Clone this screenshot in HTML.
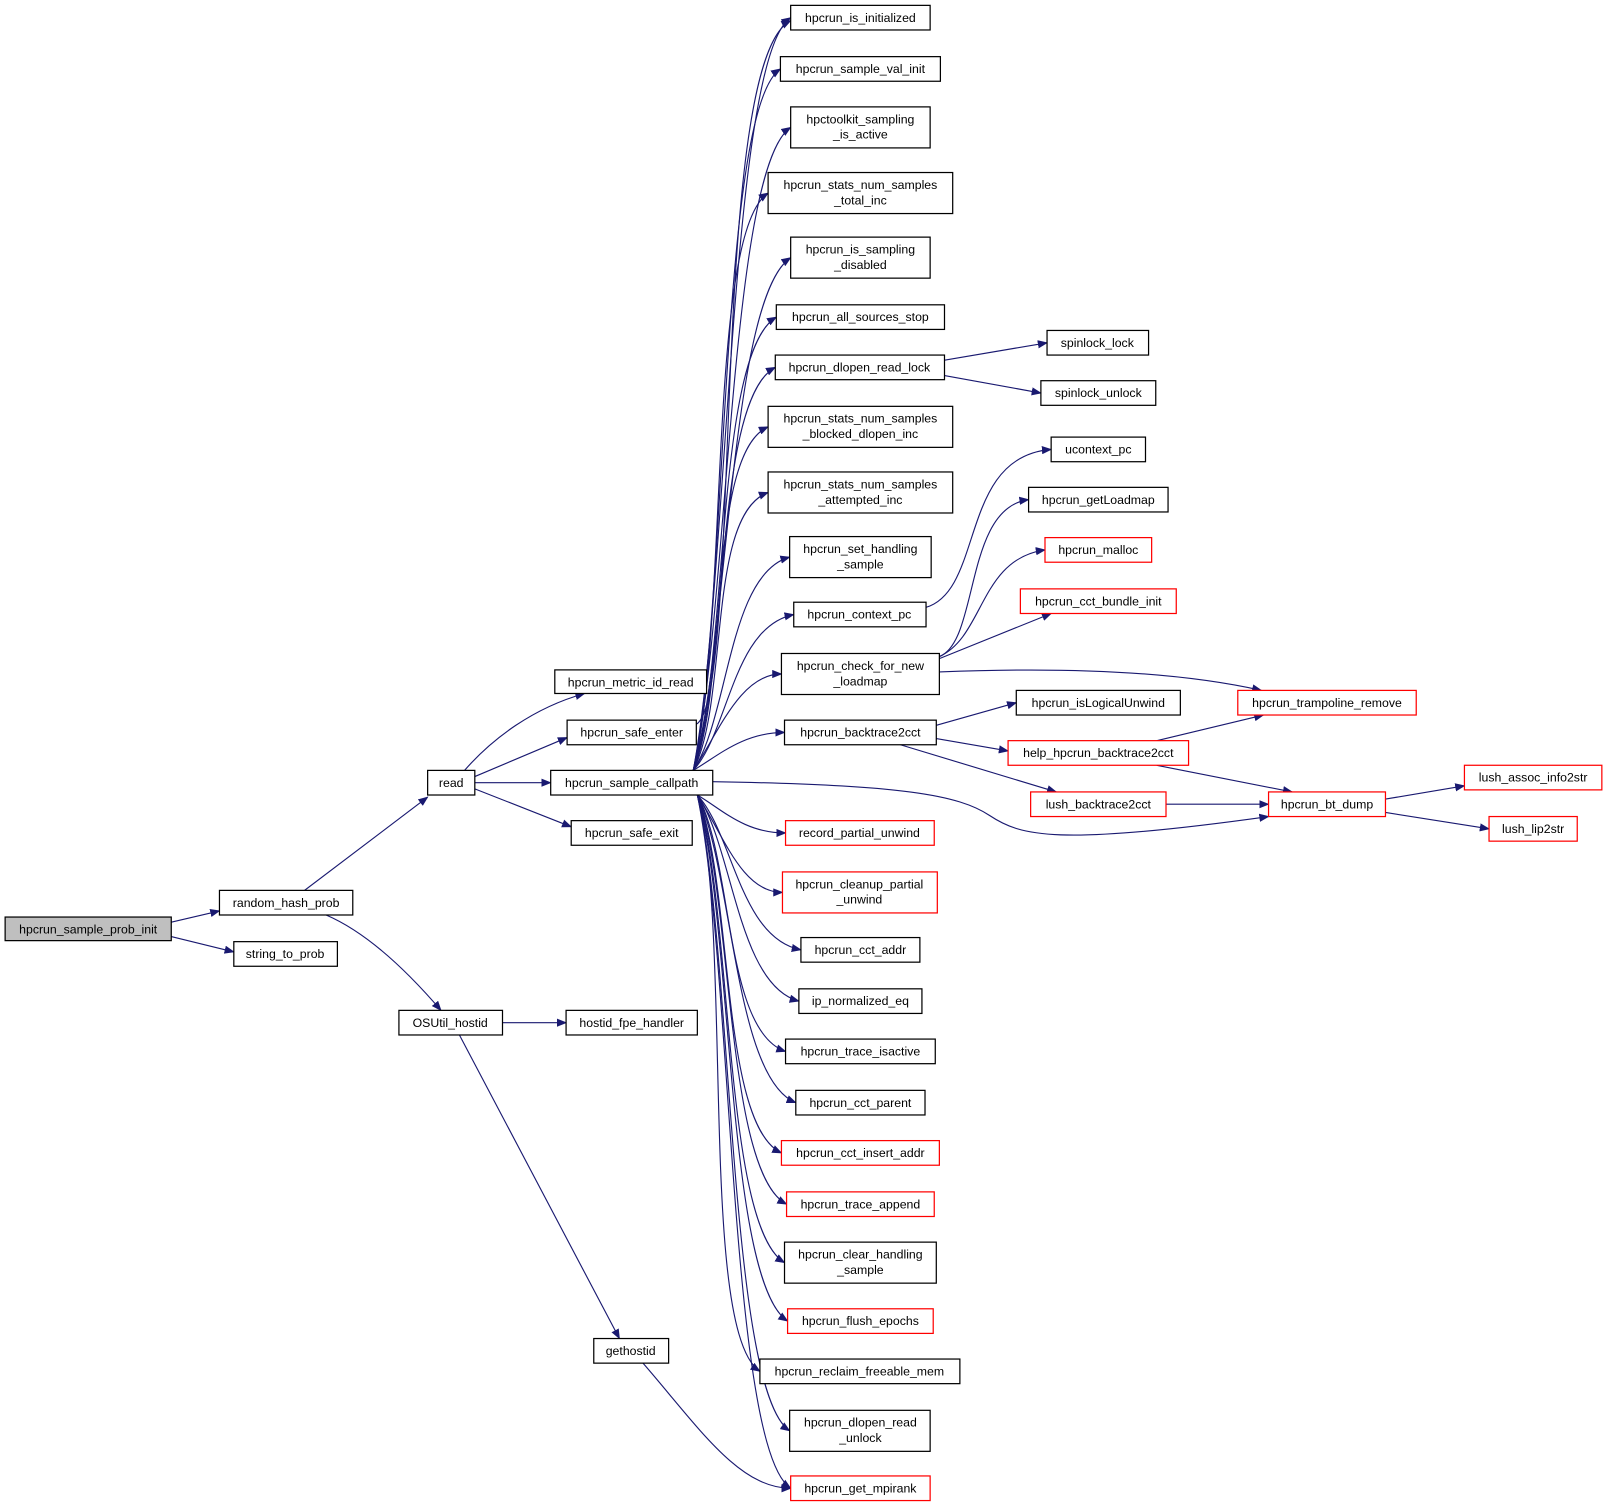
<!DOCTYPE html>
<html><head><meta charset="utf-8"><style>html,body{margin:0;padding:0;background:#fff}svg{display:block}text{font-family:"Liberation Sans",sans-serif;font-size:12px;fill:#000}</style></head>
<body>
<svg id="g" width="1608" height="1509" viewBox="0 0 1568 1471" xmlns="http://www.w3.org/2000/svg">
<defs><marker id="a" markerWidth="10" markerHeight="8" refX="9" refY="4" orient="auto" markerUnits="userSpaceOnUse"><path d="M0,0 L10,4 L0,8 z" fill="#191970"/></marker></defs>
<g id="edges" fill="none" stroke="#191970" stroke-width="1.1"></g>
<g stroke-width="1.2" fill="#fff">
<rect x="5" y="894" width="162" height="23" fill="#bfbfbf" stroke="#000"/><text x="86" y="910" text-anchor="middle">hpcrun_sample_prob_init</text>
<rect x="214" y="868" width="130" height="24" stroke="#000"/><text x="279" y="884" text-anchor="middle">random_hash_prob</text>
<rect x="228" y="918" width="101" height="24" stroke="#000"/><text x="278" y="934" text-anchor="middle">string_to_prob</text>
<rect x="417" y="751" width="46" height="24" stroke="#000"/><text x="440" y="767" text-anchor="middle">read</text>
<rect x="389" y="985" width="101" height="24" stroke="#000"/><text x="439" y="1001" text-anchor="middle">OSUtil_hostid</text>
<rect x="541" y="653" width="148" height="23" stroke="#000"/><text x="615" y="669" text-anchor="middle">hpcrun_metric_id_read</text>
<rect x="553" y="702" width="126" height="24" stroke="#000"/><text x="616" y="718" text-anchor="middle">hpcrun_safe_enter</text>
<rect x="537" y="751" width="158" height="24" stroke="#000"/><text x="616" y="767" text-anchor="middle">hpcrun_sample_callpath</text>
<rect x="557" y="800" width="118" height="24" stroke="#000"/><text x="616" y="816" text-anchor="middle">hpcrun_safe_exit</text>
<rect x="552" y="985" width="128" height="24" stroke="#000"/><text x="616" y="1001" text-anchor="middle">hostid_fpe_handler</text>
<rect x="579" y="1305" width="73" height="24" stroke="#000"/><text x="615" y="1321" text-anchor="middle">gethostid</text>

<rect x="771" y="5" width="136" height="24" stroke="#000"/><text x="839" y="21" text-anchor="middle">hpcrun_is_initialized</text>
<rect x="761" y="55" width="156" height="24" stroke="#000"/><text x="839" y="71" text-anchor="middle">hpcrun_sample_val_init</text>
<rect x="771" y="104" width="136" height="40" stroke="#000"/><text x="839" y="120" text-anchor="middle">hpctoolkit_sampling</text><text x="839" y="135" text-anchor="middle">_is_active</text>
<rect x="749" y="168" width="180" height="40" stroke="#000"/><text x="839" y="184" text-anchor="middle">hpcrun_stats_num_samples</text><text x="839" y="199" text-anchor="middle">_total_inc</text>
<rect x="771" y="231" width="136" height="40" stroke="#000"/><text x="839" y="247" text-anchor="middle">hpcrun_is_sampling</text><text x="839" y="262" text-anchor="middle">_disabled</text>
<rect x="757" y="297" width="164" height="24" stroke="#000"/><text x="839" y="313" text-anchor="middle">hpcrun_all_sources_stop</text>
<rect x="756" y="346" width="165" height="24" stroke="#000"/><text x="838" y="362" text-anchor="middle">hpcrun_dlopen_read_lock</text>
<rect x="749" y="396" width="180" height="40" stroke="#000"/><text x="839" y="412" text-anchor="middle">hpcrun_stats_num_samples</text><text x="839" y="427" text-anchor="middle">_blocked_dlopen_inc</text>
<rect x="749" y="460" width="180" height="40" stroke="#000"/><text x="839" y="476" text-anchor="middle">hpcrun_stats_num_samples</text><text x="839" y="491" text-anchor="middle">_attempted_inc</text>
<rect x="770" y="523" width="138" height="40" stroke="#000"/><text x="839" y="539" text-anchor="middle">hpcrun_set_handling</text><text x="839" y="554" text-anchor="middle">_sample</text>
<rect x="774" y="587" width="129" height="24" stroke="#000"/><text x="838" y="603" text-anchor="middle">hpcrun_context_pc</text>
<rect x="762" y="637" width="154" height="40" stroke="#000"/><text x="839" y="653" text-anchor="middle">hpcrun_check_for_new</text><text x="839" y="668" text-anchor="middle">_loadmap</text>
<rect x="765" y="702" width="148" height="24" stroke="#000"/><text x="839" y="718" text-anchor="middle">hpcrun_backtrace2cct</text>
<rect x="766" y="800" width="145" height="24" stroke="red"/><text x="838" y="816" text-anchor="middle">record_partial_unwind</text>
<rect x="763" y="850" width="151" height="40" stroke="red"/><text x="838" y="866" text-anchor="middle">hpcrun_cleanup_partial</text><text x="838" y="881" text-anchor="middle">_unwind</text>
<rect x="781" y="914" width="116" height="24" stroke="#000"/><text x="839" y="930" text-anchor="middle">hpcrun_cct_addr</text>
<rect x="779" y="964" width="120" height="24" stroke="#000"/><text x="839" y="980" text-anchor="middle">ip_normalized_eq</text>
<rect x="766" y="1013" width="146" height="24" stroke="#000"/><text x="839" y="1029" text-anchor="middle">hpcrun_trace_isactive</text>
<rect x="776" y="1063" width="126" height="24" stroke="#000"/><text x="839" y="1079" text-anchor="middle">hpcrun_cct_parent</text>
<rect x="762" y="1112" width="154" height="24" stroke="red"/><text x="839" y="1128" text-anchor="middle">hpcrun_cct_insert_addr</text>
<rect x="767" y="1162" width="144" height="24" stroke="red"/><text x="839" y="1178" text-anchor="middle">hpcrun_trace_append</text>
<rect x="765" y="1211" width="148" height="40" stroke="#000"/><text x="839" y="1227" text-anchor="middle">hpcrun_clear_handling</text><text x="839" y="1242" text-anchor="middle">_sample</text>
<rect x="768" y="1276" width="142" height="24" stroke="red"/><text x="839" y="1292" text-anchor="middle">hpcrun_flush_epochs</text>
<rect x="741" y="1325" width="195" height="24" stroke="#000"/><text x="838" y="1341" text-anchor="middle">hpcrun_reclaim_freeable_mem</text>
<rect x="770" y="1375" width="137" height="40" stroke="#000"/><text x="839" y="1391" text-anchor="middle">hpcrun_dlopen_read</text><text x="839" y="1406" text-anchor="middle">_unlock</text>
<rect x="771" y="1439" width="136" height="24" stroke="red"/><text x="839" y="1455" text-anchor="middle">hpcrun_get_mpirank</text>

<rect x="1021" y="322" width="99" height="24" stroke="#000"/><text x="1070" y="338" text-anchor="middle">spinlock_lock</text>
<rect x="1015" y="371" width="112" height="24" stroke="#000"/><text x="1071" y="387" text-anchor="middle">spinlock_unlock</text>
<rect x="1025" y="426" width="92" height="24" stroke="#000"/><text x="1071" y="442" text-anchor="middle">ucontext_pc</text>
<rect x="1003" y="475" width="136" height="24" stroke="#000"/><text x="1071" y="491" text-anchor="middle">hpcrun_getLoadmap</text>
<rect x="1019" y="524" width="104" height="24" stroke="red"/><text x="1071" y="540" text-anchor="middle">hpcrun_malloc</text>
<rect x="995" y="574" width="152" height="24" stroke="red"/><text x="1071" y="590" text-anchor="middle">hpcrun_cct_bundle_init</text>
<rect x="991" y="673" width="160" height="24" stroke="#000"/><text x="1071" y="689" text-anchor="middle">hpcrun_isLogicalUnwind</text>
<rect x="983" y="722" width="176" height="24" stroke="red"/><text x="1071" y="738" text-anchor="middle">help_hpcrun_backtrace2cct</text>
<rect x="1005" y="772" width="132" height="24" stroke="red"/><text x="1071" y="788" text-anchor="middle">lush_backtrace2cct</text>
<rect x="1207" y="673" width="174" height="24" stroke="red"/><text x="1294" y="689" text-anchor="middle">hpcrun_trampoline_remove</text>
<rect x="1237" y="772" width="114" height="24" stroke="red"/><text x="1294" y="788" text-anchor="middle">hpcrun_bt_dump</text>
<rect x="1428" y="746" width="134" height="24" stroke="red"/><text x="1495" y="762" text-anchor="middle">lush_assoc_info2str</text>
<rect x="1452" y="796" width="86" height="24" stroke="red"/><text x="1495" y="812" text-anchor="middle">lush_lip2str</text>
</g>
</svg>
<script>
var E=document.getElementById('edges');
function p(d){var e=document.createElementNS('http://www.w3.org/2000/svg','path');e.setAttribute('d',d);e.setAttribute('marker-end','url(#a)');E.appendChild(e);}
var fan=[[771,17],[761,67],[771,124],[749,188],[771,251],[757,309],[756,358],[749,416],[749,480],[770,543],[774,599],[762,657],[765,714],[766,812],[763,870],[781,926],[779,976],[766,1025],[776,1075],[762,1124],[767,1174],[765,1231],[768,1288],[741,1337],[770,1395],[771,1451]];
fan.forEach(function(t){var tx=t[0],ty=t[1];var up=ty<760;var sy=up?751:775;var sx=up?676:680;
 var dy=ty-sy,ad=Math.abs(dy);
 if(ad<100){p('M'+sx+','+sy+' C'+(sx+25)+','+(sy+dy*0.4)+' '+(tx-40)+','+ty+' '+tx+','+ty);}
 else{var k=Math.min(40,ad*0.08);var c2y=up?ty+k:ty-k;
  p('M'+sx+','+sy+' C'+(sx+35)+','+(sy+dy*0.25)+' '+(tx-60)+','+c2y+' '+tx+','+ty);}
});
[
'M167,899 L214,888','M167,913 L228,928','M297,868 L417,777','M318,892 C360,910 400,950 430,985',
'M453,751 C480,720 520,690 570,676','M463,757 L553,719','M463,763 L537,763','M463,769 L557,806',
'M490,997 L552,997','M448,1009 L604,1305','M627,1329 C680,1390 720,1451 771,1451',
'M679,706 C725,680 690,60 771,20',
'M921,351 L1021,334','M921,366 L1015,383',
'M903,592 C960,575 935,445 1025,438','M916,640 C955,625 940,495 1003,487','M916,640 C960,620 955,545 1019,536',
'M916,642 L1025,598','M916,655 C1040,650 1150,655 1230,673',
'M913,707 L991,685','M913,720 L983,732','M878,726 L1030,772',
'M695,762 C880,765 935,775 965,795 C995,815 1030,825 1237,796',
'M1128,722 L1232,697','M1128,746 L1260,772','M1137,784 L1237,784',
'M1351,779 L1428,766','M1351,792 L1452,808'
].forEach(p);
</script>
</body></html>
